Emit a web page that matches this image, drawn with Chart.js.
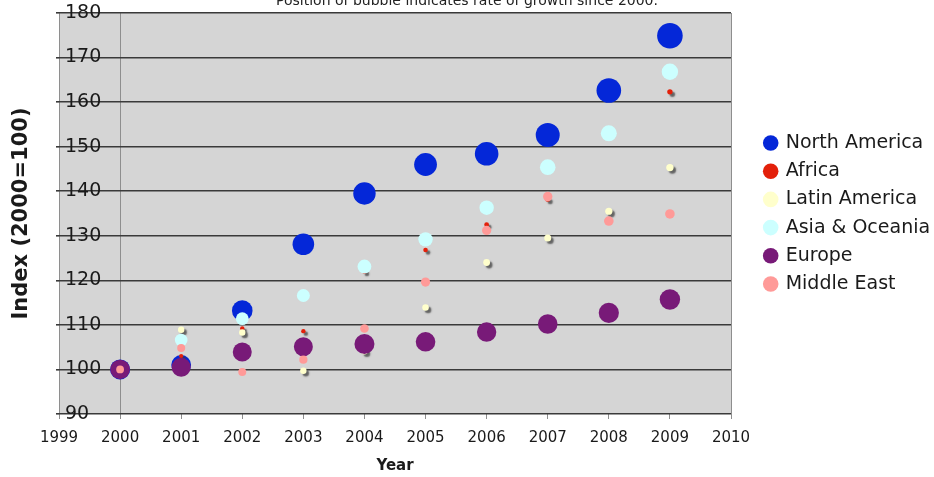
<!DOCTYPE html>
<html>
<head>
<meta charset="utf-8">
<script src="https://cdn.jsdelivr.net/npm/chart.js@4/dist/chart.umd.min.js"></script>
<style>
  html, body { margin: 0; padding: 0; background: #ffffff; }
  #wrap { width: 934px; height: 477px; position: relative; }
</style>
</head>
<body>
<div id="wrap"><canvas id="chart" width="934" height="477"></canvas></div>
<script>
// Index values (2000 = 100) by region and year
const years = [2000, 2001, 2002, 2003, 2004, 2005, 2006, 2007, 2008, 2009];

const northAmerica = [100, 101.0, 113.2, 128.1, 139.5, 146.0, 148.4, 152.6, 162.6, 174.9];
const africa       = [100, 103.0, 109.2, 108.6, 122.0, 126.8, 132.5, 138.2, 153.0, 162.3];
const latinAmerica = [100, 108.9, 108.3,  99.7, 104.1, 113.9, 124.0, 129.5, 135.5, 145.3];
const asiaOceania  = [100, 106.6, 111.4, 116.6, 123.1, 129.2, 136.3, 145.4, 153.0, 166.8];
const europe       = [100, 100.5, 103.9, 105.1, 105.7, 106.2, 108.4, 110.2, 112.7, 115.7];
const middleEast   = [100, 104.8,  99.4, 102.2, 109.2, 119.6, 131.2, 138.8, 133.3, 134.9];

// Bubble radius for each region and year (third dimension of the bubbles)
const northAmericaSize = [10.0, 9.9, 10.3, 10.8, 11.2, 11.4, 11.8, 12.0, 12.3, 12.8];
const africaSize       = [2.0, 2.1, 2.2, 2.2, 2.3, 2.3, 2.4, 2.5, 2.6, 2.7];
const latinAmericaSize = [3.1, 3.2, 3.2, 3.2, 3.3, 3.3, 3.4, 3.5, 3.6, 3.7];
const asiaOceaniaSize  = [6.0, 6.3, 6.4, 6.5, 6.9, 7.2, 7.2, 7.8, 8.0, 8.2];
const europeSize       = [9.8, 9.5, 9.5, 9.5, 10.0, 9.8, 9.7, 9.8, 10.1, 10.2];
const middleEastSize   = [3.9, 4.0, 4.0, 4.1, 4.3, 4.6, 4.6, 4.7, 4.8, 4.8];

const regionNames = ['North America', 'Africa', 'Latin America', 'Asia & Oceania', 'Europe', 'Middle East'];

const yearTicks = { min: 1999, max: 2010, step: 1 };
const indexTicks = { min: 90, max: 180, step: 10 };

const chartTitle = 'Position of bubble indicates rate of growth since 2000.';
const xTitle = 'Year';
const yTitle = 'Index (2000=100)';

function points(values, sizes) {
  return years.map((yr, i) => ({ x: yr, y: values[i], r: sizes[i] }));
}

const series = [
  { values: northAmerica, sizes: northAmericaSize, color: '#0427d8', shadow: false },
  { values: africa,       sizes: africaSize,       color: '#e3200a', shadow: true },
  { values: latinAmerica, sizes: latinAmericaSize, color: '#ffffcc', shadow: true },
  { values: asiaOceania,  sizes: asiaOceaniaSize,  color: '#ccffff', shadow: false },
  { values: europe,       sizes: europeSize,       color: '#781a78', shadow: false },
  { values: middleEast,   sizes: middleEastSize,   color: '#ff9a98', shadow: false }
];

const datasets = series.map((s, i) => ({
  label: regionNames[i],
  data: points(s.values, s.sizes),
  backgroundColor: s.color,
  borderWidth: 0,
  pointStyle: 'circle',
  shadow: s.shadow,
  // later regions are painted over earlier ones
  order: series.length - i
}));

// grey plot background
const plotBackground = {
  id: 'plotBackground',
  beforeDraw(chart) {
    const { ctx, chartArea: a } = chart;
    ctx.save();
    ctx.fillStyle = '#d5d5d5';
    ctx.fillRect(a.left, a.top, a.right - a.left, a.bottom - a.top);
    ctx.restore();
  }
};

// small drop shadow under the tiny bubbles
const bubbleShadow = {
  id: 'bubbleShadow',
  beforeDatasetDraw(chart, args) {
    const ds = chart.data.datasets[args.index];
    if (!ds.shadow) return;
    const ctx = chart.ctx;
    ctx.save();
    ctx.shadowColor = 'rgba(60,60,60,0.75)';
    ctx.shadowOffsetX = 2.5;
    ctx.shadowOffsetY = 2.5;
    ctx.shadowBlur = 1.5;
  },
  afterDatasetDraw(chart, args) {
    const ds = chart.data.datasets[args.index];
    if (!ds.shadow) return;
    chart.ctx.restore();
  }
};

// caption along the top edge
const topCaption = {
  id: 'topCaption',
  afterDraw(chart) {
    const ctx = chart.ctx;
    ctx.save();
    ctx.font = "14px 'DejaVu Sans', Verdana, sans-serif";
    ctx.fillStyle = '#222222';
    ctx.textAlign = 'center';
    ctx.textBaseline = 'alphabetic';
    ctx.fillText(chartTitle, 467, 5);
    ctx.restore();
  }
};

Chart.defaults.font.family = "'DejaVu Sans', Verdana, sans-serif";
Chart.defaults.color = '#1a1a1a';

function noVerticalPadding(scale) {
  scale.paddingTop = 0;
  scale.paddingBottom = 0;
}

new Chart(document.getElementById('chart'), {
  type: 'bubble',
  data: { datasets },
  plugins: [plotBackground, bubbleShadow, topCaption],
  options: {
    responsive: false,
    animation: false,
    events: [],
    layout: { padding: { top: 13, right: 0, bottom: 0, left: 0 } },
    plugins: {
      legend: {
        position: 'right',
        fullSize: false,
        maxWidth: 178,
        labels: {
          usePointStyle: true,
          boxWidth: 11,
          boxHeight: 11,
          padding: 9.2,
          font: { size: 19 },
          color: '#1a1a1a',
          sort: (a, b) => a.datasetIndex - b.datasetIndex
        }
      },
      tooltip: { enabled: false }
    },
    scales: {
      x: {
        type: 'linear',
        position: 'bottom',
        min: yearTicks.min,
        max: yearTicks.max,
        afterFit(scale) {
          scale.height = 63;
          scale.paddingLeft = 0;
          scale.paddingRight = 0;
        },
        border: { display: false },
        grid: {
          color: (c) => (c.tick && (c.tick.value === 1999 || c.tick.value === 2000 || c.tick.value === 2010)) ? '#8e8e8e' : 'rgba(0,0,0,0)',
          lineWidth: 1,
          drawTicks: true,
          tickLength: 5,
          tickColor: '#8e8e8e'
        },
        ticks: {
          stepSize: yearTicks.step,
          padding: 10,
          maxRotation: 0,
          font: { size: 15 },
          color: '#1a1a1a',
          callback: (v) => String(v)
        },
        title: {
          display: true,
          text: xTitle,
          font: { size: 15, weight: 'bold' },
          color: '#1a1a1a',
          padding: { top: 0, bottom: 2 }
        }
      },
      y: {
        type: 'linear',
        position: 'left',
        min: indexTicks.min,
        max: indexTicks.max,
        afterFit(scale) {
          scale.width = 59;
          noVerticalPadding(scale);
        },
        border: { display: false },
        grid: {
          color: '#3a3a3a',
          lineWidth: 1.6,
          drawTicks: true,
          tickLength: 3,
          tickColor: '#3a3a3a'
        },
        ticks: {
          stepSize: indexTicks.step,
          mirror: true,
          padding: 6,
          font: { size: 19 },
          color: '#1a1a1a',
          callback: (v) => String(v)
        },
        title: {
          display: true,
          text: yTitle,
          font: { size: 21, weight: 'bold' },
          color: '#1a1a1a',
          padding: { top: 9, bottom: 0 }
        }
      },
      gap: {
        type: 'linear',
        position: 'right',
        display: true,
        afterFit(scale) {
          scale.width = 25;
          noVerticalPadding(scale);
        },
        border: { display: false },
        grid: { display: false, drawTicks: false },
        ticks: { display: false }
      }
    }
  }
});
</script>
</body>
</html>
